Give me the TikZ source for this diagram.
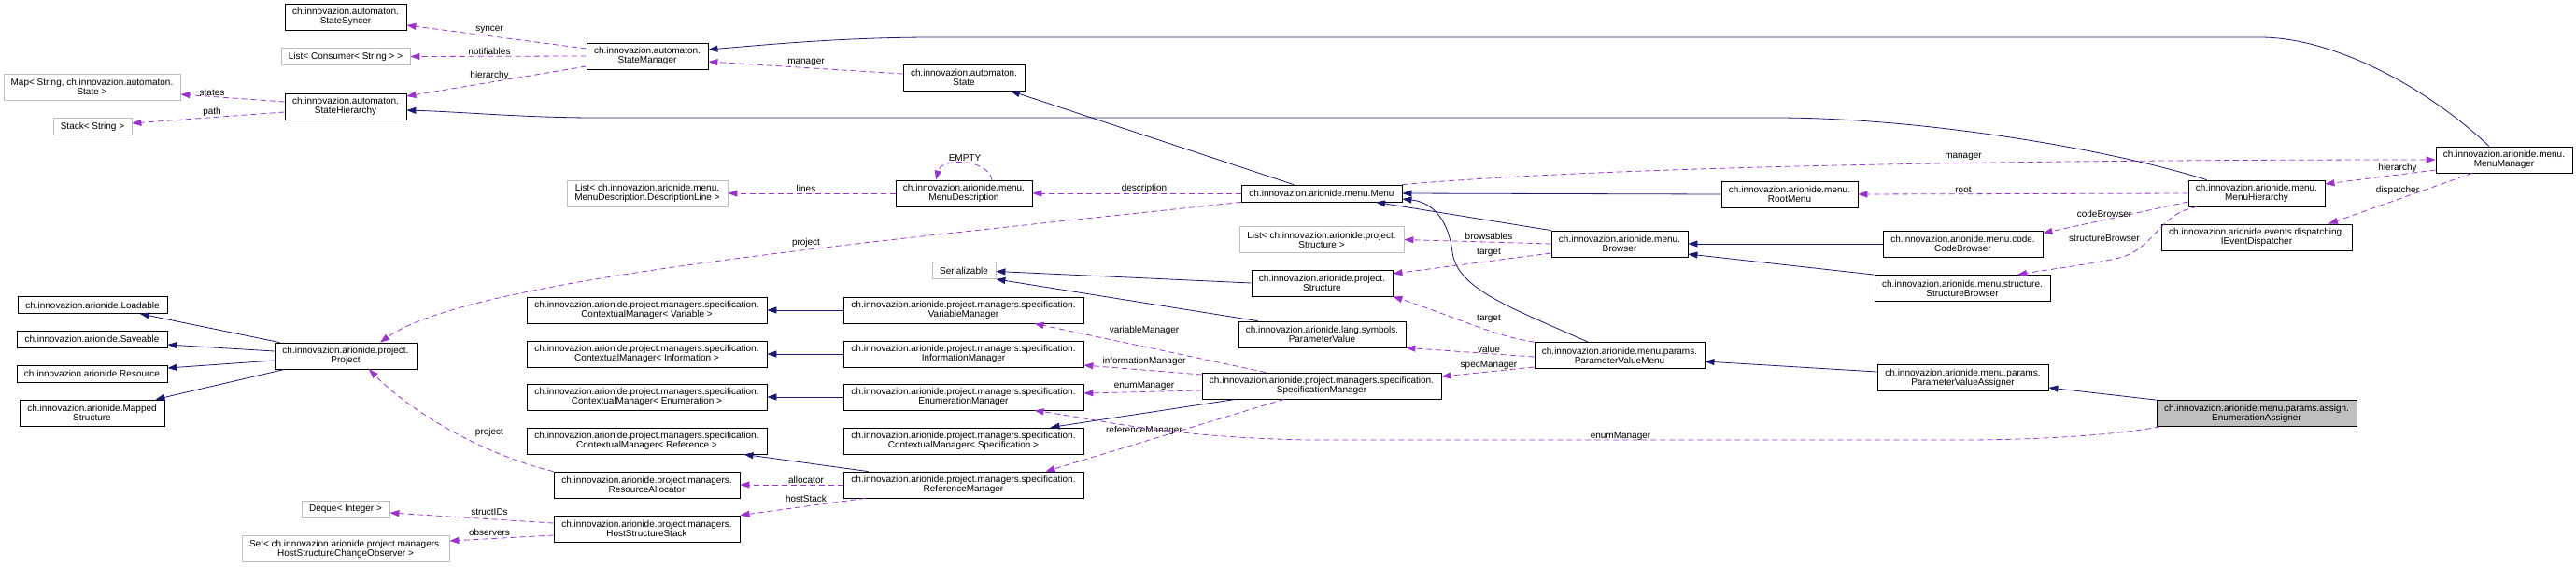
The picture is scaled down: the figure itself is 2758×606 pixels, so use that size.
\documentclass[tikz,border=0pt]{standalone}
\usepackage{fontspec}
\setmainfont{Liberation Sans}
\usetikzlibrary{arrows.meta}
\definecolor{colINH}{RGB}{25,25,112}
\definecolor{colUSE}{RGB}{154,50,205}
\definecolor{colEXT}{RGB}{191,191,191}

\begin{document}
\begin{tikzpicture}[x=1pt, y=-1pt,
    every node/.style={font=\fontsize{10}{10}\selectfont, align=center, inner sep=0pt},
    cls/.style={draw=black, line width=0.8pt, fill=white, minimum height=28pt},
    ext/.style={draw=colEXT, line width=0.8pt, fill=white, minimum height=28pt},
    focal/.style={draw=black, line width=0.8pt, fill=colEXT, minimum height=28pt},
    one/.style={minimum height=18pt},
    wd/.style={minimum width=#1pt},
    inh/.style={colINH, line width=0.8pt, -{Triangle[length=10pt,width=7pt]}},
    use/.style={colUSE, line width=0.8pt, dash pattern=on 6pt off 4pt, -{Triangle[length=10pt,width=7pt]}},
    lbl/.style={text=black, fill=none}]
      \useasboundingbox (0,0) rectangle (2758,606);
      % automaton classes
      \node[cls, wd=130] (ss) at (370,18) {ch.innovazion.automaton.\\StateSyncer};
      \node[ext, one, wd=138] (lcs) at (370,60.5) {List< Consumer< String > >};
      \node[ext, wd=189] (mp) at (98.5,93) {Map< String, ch.innovazion.automaton.\\State >};
      \node[ext, one, wd=84] (stk) at (99,135.5) {Stack< String >};
      \node[cls, wd=130] (sh) at (370,114) {ch.innovazion.automaton.\\StateHierarchy};
      \node[cls, wd=130] (smg) at (693,60) {ch.innovazion.automaton.\\StateManager};
      \node[cls, wd=130] (st) at (1032,83) {ch.innovazion.automaton.\\State};
      % menu classes
      \node[ext, wd=172] (ldl) at (693,207) {List< ch.innovazion.arionide.menu.\\MenuDescription.DescriptionLine >};
      \node[cls, wd=146] (md) at (1032,207) {ch.innovazion.arionide.menu.\\MenuDescription};
      \node[cls, one, wd=172] (menu) at (1415,207) {ch.innovazion.arionide.menu.Menu};
      \node[ext, wd=176] (lst) at (1415,256.5) {List< ch.innovazion.arionide.project.\\Structure >};
      \node[ext, one, wd=68] (ser) at (1032,289.5) {Serializable};
      \node[cls, wd=151] (struct) at (1415.5,303) {ch.innovazion.arionide.project.\\Structure};
      \node[cls, wd=179] (pv) at (1415.5,358) {ch.innovazion.arionide.lang.symbols.\\ParameterValue};
      \node[cls, wd=256] (spm) at (1415,413) {ch.innovazion.arionide.project.managers.specification.\\SpecificationManager};
      % specification managers
      \node[cls, wd=257] (vm) at (1031.5,332) {ch.innovazion.arionide.project.managers.specification.\\VariableManager};
      \node[cls, wd=257] (im) at (1031.5,379) {ch.innovazion.arionide.project.managers.specification.\\InformationManager};
      \node[cls, wd=257] (em) at (1031.5,425) {ch.innovazion.arionide.project.managers.specification.\\EnumerationManager};
      \node[cls, wd=257] (cms) at (1031.5,472) {ch.innovazion.arionide.project.managers.specification.\\ContextualManager< Specification >};
      \node[cls, wd=257] (rm) at (1031.5,519) {ch.innovazion.arionide.project.managers.specification.\\ReferenceManager};
      \node[cls, wd=257] (cmv) at (692.5,332) {ch.innovazion.arionide.project.managers.specification.\\ContextualManager< Variable >};
      \node[cls, wd=257] (cmi) at (692.5,379) {ch.innovazion.arionide.project.managers.specification.\\ContextualManager< Information >};
      \node[cls, wd=257] (cme) at (692.5,425) {ch.innovazion.arionide.project.managers.specification.\\ContextualManager< Enumeration >};
      \node[cls, wd=257] (cmr) at (692.5,472) {ch.innovazion.arionide.project.managers.specification.\\ContextualManager< Reference >};
      \node[cls, wd=199] (ra) at (692.5,519) {ch.innovazion.arionide.project.managers.\\ResourceAllocator};
      \node[cls, wd=199] (hss) at (692.5,566) {ch.innovazion.arionide.project.managers.\\HostStructureStack};
      % project side
      \node[cls, one, wd=160] (ld) at (99,326.5) {ch.innovazion.arionide.Loadable};
      \node[cls, one, wd=161] (sv) at (98.5,363) {ch.innovazion.arionide.Saveable};
      \node[cls, one, wd=161] (rs) at (98.5,400) {ch.innovazion.arionide.Resource};
      \node[cls, wd=155] (mps) at (98.5,442) {ch.innovazion.arionide.Mapped\\Structure};
      \node[cls, wd=152] (prj) at (370,381) {ch.innovazion.arionide.project.\\Project};
      \node[ext, one, wd=94] (dq) at (370,545.5) {Deque< Integer >};
      \node[ext, wd=222] (set) at (370,587.5) {Set< ch.innovazion.arionide.project.managers.\\HostStructureChangeObserver >};
      % right side
      \node[cls, wd=182] (pvm) at (1734,380.5) {ch.innovazion.arionide.menu.params.\\ParameterValueMenu};
      \node[cls, wd=146] (brw) at (1734,261) {ch.innovazion.arionide.menu.\\Browser};
      \node[cls, wd=146] (rmn) at (1916,208) {ch.innovazion.arionide.menu.\\RootMenu};
      \node[cls, wd=171] (cb) at (2101.5,261) {ch.innovazion.arionide.menu.code.\\CodeBrowser};
      \node[cls, wd=188] (sb) at (2101,308.5) {ch.innovazion.arionide.menu.structure.\\StructureBrowser};
      \node[cls, wd=183] (pva) at (2101.5,404.5) {ch.innovazion.arionide.menu.params.\\ParameterValueAssigner};
      \node[focal, wd=214] (ea) at (2416,442.5) {ch.innovazion.arionide.menu.params.assign.\\EnumerationAssigner};
      \node[cls, wd=146] (mh) at (2416,207) {ch.innovazion.arionide.menu.\\MenuHierarchy};
      \node[cls, wd=146] (mm) at (2681,171) {ch.innovazion.arionide.menu.\\MenuManager};
      \node[cls, wd=204] (ied) at (2416,254) {ch.innovazion.arionide.events.dispatching.\\IEventDispatcher};
      % inheritance
      \draw[inh] ([xshift=20]mh.north west) .. controls (2260,160) and (2060,126) .. (1900,126) -- (640,126) .. controls (560,126) and (500,120) .. ([yshift=-4]sh.east);
      \draw[inh] ([xshift=-16]mm.north) .. controls (2600,95) and (2500,40) .. (2420,40) -- (1000,40) .. controls (900,40) and (820,48) .. ([yshift=7]smg.east);
      \draw[inh] ([xshift=-30]menu.north) -- ([xshift=50]st.south);
      \draw[inh] (struct.west) -- ([yshift=-1]ser.east);
      \draw[inh] ([xshift=21]pv.north west) -- (ser.south east);
      \draw[inh] (rmn.west) -- (menu.east);
      \draw[inh] (brw.north west) -- ([xshift=58]menu.south);
      \draw[inh] ([xshift=-34]pvm.north) .. controls (1620,330) and (1560,310) .. (1555,270) .. controls (1550,230) and (1530,216) .. ([yshift=-6]menu.east);
      \draw[inh] (cb.west) -- (brw.east);
      \draw[inh] (sb.north west) -- ([yshift=-11]brw.east);
      \draw[inh] ([yshift=6.5]pva.west) -- ([yshift=-6.5]pvm.east);
      \draw[inh] (ea.north west) -- ([yshift=-10.5]pva.east);
      \draw[inh] (vm.west) -- (cmv.east);
      \draw[inh] (im.west) -- (cmi.east);
      \draw[inh] (em.west) -- (cme.east);
      \draw[inh] ([xshift=27]rm.north west) -- ([xshift=104]cmr.south);
      \draw[inh] ([xshift=-92]spm.south) -- ([xshift=93]cms.north);
      \draw[inh] ([xshift=6]prj.north west) -- ([xshift=51]ld.south);
      \draw[inh] ([yshift=5]prj.west) -- ([yshift=-6]sv.east);
      \draw[inh] ([yshift=-5]prj.west) -- ([yshift=6]rs.east);
      \draw[inh] ([xshift=11]prj.south west) -- ([xshift=68]mps.north);
      % members
      \draw[use] ([yshift=8]smg.west) -- ([yshift=-9]ss.east) node[lbl] at (524,32) {syncer};
      \draw[use] (smg.west) -- (lcs.east) node[lbl] at (524,55) {notifiables};
      \draw[use] ([yshift=-11]smg.west) -- ([yshift=11]sh.east) node[lbl] at (524,81) {hierarchy};
      \draw[use] ([yshift=5]sh.west) -- ([yshift=-8]mp.east) node[lbl] at (227,99) {states};
      \draw[use] ([yshift=-6]sh.west) -- ([yshift=3.5]stk.east) node[lbl] at (227,120) {path};
      \draw[use] ([yshift=4]st.west) -- ([yshift=-6]smg.east) node[lbl] at (863,67) {manager};
      \draw[use] (md.west) -- (ldl.east) node[lbl] at (863,202) {lines};
      \draw[use] ([xshift=30]md.north) .. controls (1058,170) and (1008,168) .. ([xshift=-30]md.north) node[lbl] at (1033,169) {EMPTY};
      \draw[use] (menu.west) -- (md.east) node[lbl] at (1225,202) {description};
      \draw[use] (menu.south west) .. controls (900,262) and (500,300) .. ([xshift=37]prj.north) node[lbl] at (863,260) {project};
      \draw[use] (menu.north east) .. controls (1700,180) and (2100,171) .. (mm.west) node[lbl] at (2102,168) {manager};
      \draw[use] (brw.west) -- (lst.east) node[lbl] at (1594,253) {browsables};
      \draw[use] ([yshift=-10]brw.west) -- ([yshift=10]struct.east) node[lbl] at (1594,270) {target};
      \draw[use] (pvm.north west) .. controls (1600,360) and (1560,340) .. (struct.south east) node[lbl] at (1594,341) {target};
      \draw[use] ([yshift=-1.5]pvm.west) -- (pv.south east) node[lbl] at (1594,374) {value};
      \draw[use] ([yshift=-12.5]pvm.west) -- ([yshift=10]spm.east) node[lbl] at (1594,391) {specManager};
      \draw[use] ([xshift=-60]spm.north) -- ([xshift=76]vm.south) node[lbl] at (1225,354) {variableManager};
      \draw[use] ([yshift=12]spm.west) -- ([yshift=-12]im.east) node[lbl] at (1225,387) {informationManager};
      \draw[use] ([yshift=-5]spm.west) -- ([yshift=4]em.east) node[lbl] at (1225,413) {enumManager};
      \draw[use] ([xshift=-40]spm.south) -- ([xshift=88]rm.north) node[lbl] at (1225,461) {referenceManager};
      \draw[use] (rm.west) -- (ra.east) node[lbl] at (863,514) {allocator};
      \draw[use] ([xshift=24]rm.south west) -- (hss.north east) node[lbl] at (863,534) {hostStack};
      \draw[use] (ra.north west) .. controls (530,490) and (450,450) .. ([xshift=25]prj.south) node[lbl] at (524,463) {project};
      \draw[use] ([yshift=6]hss.west) -- ([yshift=-3.5]dq.east) node[lbl] at (524,548) {structIDs};
      \draw[use] ([yshift=-7]hss.west) -- ([yshift=8.5]set.east) node[lbl] at (524,570) {observers};
      \draw[use] ([xshift=4]ea.south west) .. controls (2250,468) and (2160,471) .. (2100,471) -- (1400,471) .. controls (1250,468) and (1180,450) .. ([xshift=76]em.south) node[lbl] at (1735,467) {enumManager};
      \draw[use] (mh.west) -- (rmn.east) node[lbl] at (2102,203) {root};
      \draw[use] ([yshift=-9]mh.west) -- ([yshift=-3]cb.north east) node[lbl] at (2253,229) {codeBrowser};
      \draw[use] ([xshift=10]mh.south west) .. controls (2310,228) and (2308,268) .. (2265,277) .. controls (2230,284) and (2190,289) .. ([xshift=59]sb.north) node[lbl] at (2253,255) {structureBrowser};
      \draw[use] ([yshift=-11]mm.west) -- ([yshift=10]mh.east) node[lbl] at (2567,180) {hierarchy};
      \draw[use] ([xshift=-34]mm.south) -- ([xshift=77]ied.north) node[lbl] at (2567,204) {dispatcher};
\end{tikzpicture}
\end{document}
